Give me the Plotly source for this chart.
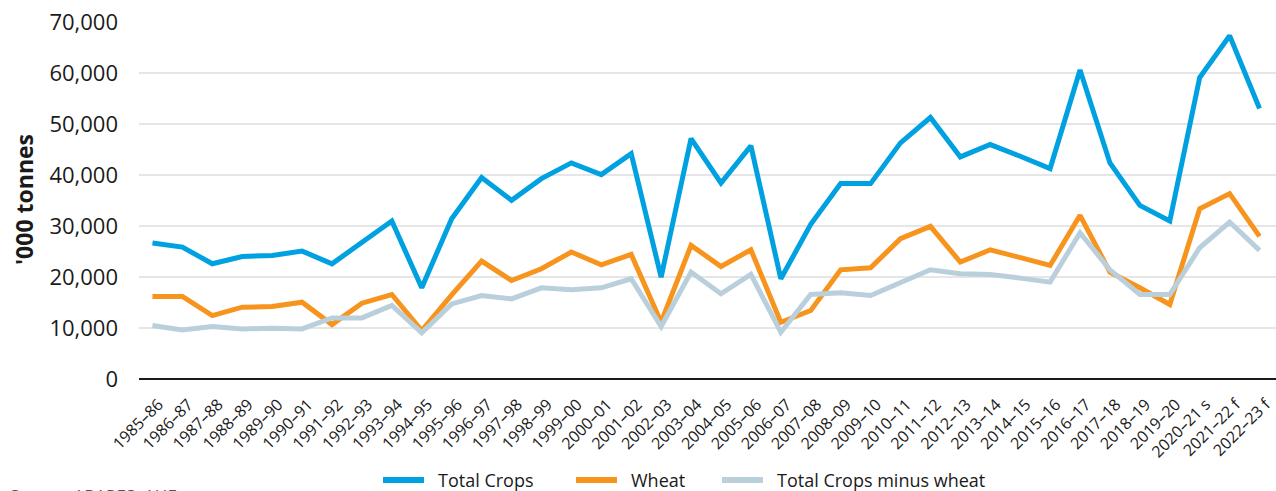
import plotly.graph_objects as go

# Crop seasons
seasons = [
    "1985–86", "1986–87", "1987–88", "1988–89", "1989–90", "1990–91",
    "1991–92", "1992–93", "1993–94", "1994–95", "1995–96", "1996–97",
    "1997–98", "1998–99", "1999–00", "2000–01", "2001–02", "2002–03",
    "2003–04", "2004–05", "2005–06", "2006–07", "2007–08", "2008–09",
    "2009–10", "2010–11", "2011–12", "2012–13", "2013–14", "2014–15",
    "2015–16", "2016–17", "2017–18", "2018–19", "2019–20", "2020–21 s",
    "2021–22 f", "2022–23 f",
]

# Production, '000 tonnes
total_crops = [
    26650, 25870, 22590, 24030, 24230, 25080, 22590, 26850, 30980, 17880,
    31430, 39490, 35040, 39290, 42370, 40080, 44200, 19970, 47150, 38440,
    45710, 19650, 30320, 38310, 38310, 46300, 51280, 43550, 45970, 43680,
    41260, 60580, 42370, 34050, 30980, 59130, 67320, 53050,
]
wheat = [
    16180, 16180, 12440, 14080, 14210, 15060, 10670, 14870, 16570, 9500,
    16500, 23120, 19320, 21610, 24890, 22400, 24430, 11130, 26200, 22070,
    25340, 11130, 13430, 21410, 21810, 27500, 29930, 22920, 25340, 23770,
    22270, 32090, 20960, 17880, 14600, 33400, 36350, 27960,
]
total_minus_wheat = [
    10480, 9630, 10280, 9820, 9950, 9820, 11980, 11980, 14410, 9040,
    14730, 16370, 15720, 17880, 17490, 17880, 19650, 10280, 20960, 16700,
    20500, 9170, 16570, 16900, 16370, 18990, 21410, 20630, 20500, 19780,
    18990, 28680, 21410, 16570, 16570, 25740, 30780, 25210,
]

series = [
    ("Total Crops", total_crops, "#00A1E0"),
    ("Wheat", wheat, "#F7941E"),
    ("Total Crops minus wheat", total_minus_wheat, "#B9CFDC"),
]

FONT = "Open Sans"

fig = go.Figure()
for name, values, colour in series:
    fig.add_trace(go.Scatter(
        x=seasons, y=values, name=name, mode="lines",
        line=dict(color=colour, width=5),
        showlegend=False,
    ))

# Page geometry (pixels)
W, H = 1276, 491
L, R, T, B = 139, 0, 22, 112
pw, ph = W - L - R, H - T - B


def px_x(p):
    return (p - L) / pw


def px_y(p):
    return (H - B - p) / ph


fig.update_layout(
    width=W, height=H,
    margin=dict(l=L, r=R, t=T, b=B, pad=0, autoexpand=False),
    paper_bgcolor="white", plot_bgcolor="white",
    font=dict(family=FONT, color="#1a1a1a"),
    xaxis=dict(
        type="category",
        range=[-0.45, len(seasons) - 0.45],
        tickangle=-45,
        tickfont=dict(size=16, color="#1a1a1a"),
        ticklabelshift=6, ticklabelstandoff=12,
        showgrid=False, ticks="", showline=False, zeroline=False,
        automargin=False,
    ),
    yaxis=dict(
        range=[0, 70000],
        tickvals=[0, 10000, 20000, 30000, 40000, 50000, 60000, 70000],
        tickformat=",d",
        tickfont=dict(size=22, color="#1a1a1a"),
        showgrid=True, gridcolor="#e6e6e6", gridwidth=1.5,
        zeroline=True, zerolinecolor="#1a1a1a", zerolinewidth=2,
        ticks="", ticklabelstandoff=20,
        showline=False, automargin=False,
    ),
)

# Axis title
fig.add_annotation(
    text="<b>'000 tonnes</b>", xref="paper", yref="paper",
    x=px_x(24), y=px_y(200), textangle=-90, showarrow=False,
    xanchor="center", yanchor="middle",
    font=dict(family=FONT, size=23, color="#1a1a1a"),
)

# Legend row: swatch + label for each series
legend_items = [
    ("Total Crops", "#00A1E0", 383),
    ("Wheat", "#F7941E", 576),
    ("Total Crops minus wheat", "#B9CFDC", 722),
]
ly = 480
for name, colour, x0 in legend_items:
    fig.add_shape(
        type="line", xref="paper", yref="paper",
        x0=px_x(x0), x1=px_x(x0 + 41), y0=px_y(ly), y1=px_y(ly),
        line=dict(color=colour, width=6),
    )
    fig.add_annotation(
        text=name, xref="paper", yref="paper",
        x=px_x(x0 + 53), y=px_y(ly), showarrow=False,
        xanchor="left", yanchor="middle",
        font=dict(family=FONT, size=18, color="#1a1a1a"),
    )

# Source note along the bottom edge
fig.add_annotation(
    text="Source: ABARES; AHE", xref="paper", yref="paper",
    x=px_x(8), y=px_y(482), showarrow=False,
    xanchor="left", yanchor="top",
    font=dict(family=FONT, size=17, color="#555555"),
)

fig.write_html("out.html")
